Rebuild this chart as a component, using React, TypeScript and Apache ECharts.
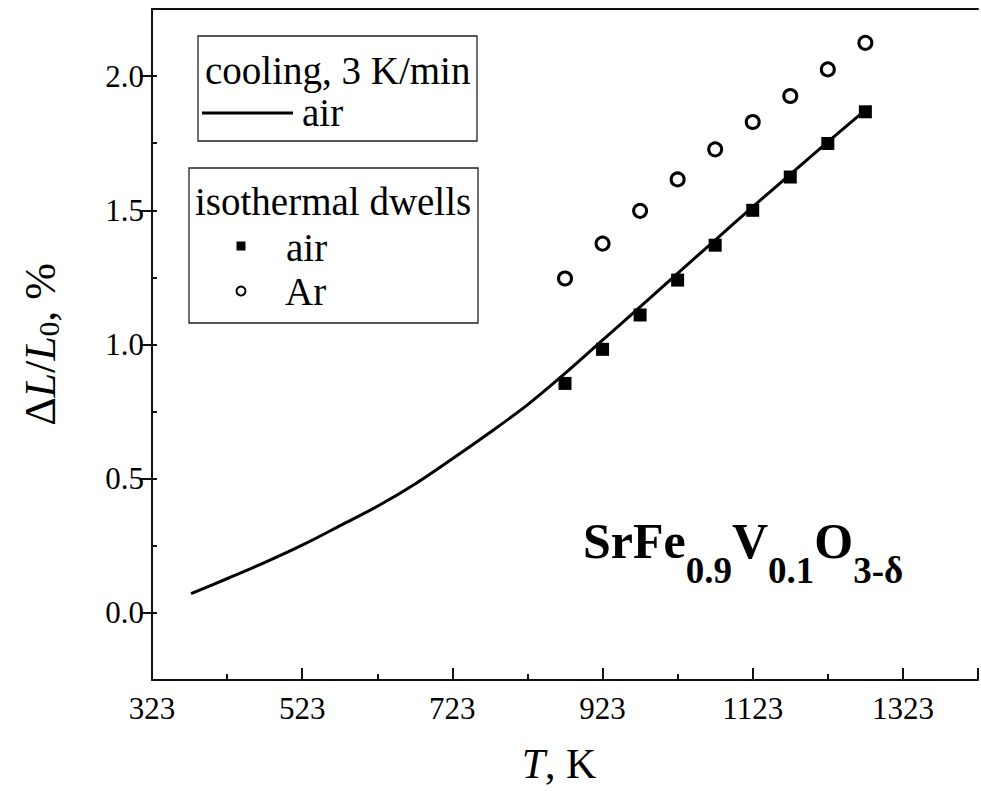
import React, { useEffect, useRef } from "react";
import * as echarts from "echarts";

const FONT = "Liberation Serif";

// isothermal dwell temperatures (K)
const dwellT = [873, 923, 973, 1023, 1073, 1123, 1173, 1223, 1273];
// ΔL/L0 (%) in air, isothermal dwells
const dwellAir = [0.855, 0.982, 1.11, 1.24, 1.37, 1.5, 1.624, 1.749, 1.867];
// ΔL/L0 (%) in Ar, isothermal dwells
const dwellAr = [1.246, 1.376, 1.498, 1.615, 1.727, 1.829, 1.926, 2.025, 2.124];
// cooling curve in air, 3 K/min
const coolT = [375, 425, 475, 525, 575, 625, 675, 723, 773, 823, 873, 923, 973, 1023, 1073, 1123, 1173, 1223, 1273];
const coolAir = [0.072, 0.13, 0.19, 0.255, 0.327, 0.4, 0.483, 0.574, 0.672, 0.775, 0.892, 1.016, 1.14, 1.265, 1.389, 1.513, 1.634, 1.755, 1.873];

const X_MIN = 323;
const X_MAX = 1423;
const X_STEP = 200;
const Y_MIN = -0.25;
const Y_MAX = 2.25;

export default function App() {
  const ref = useRef<HTMLDivElement>(null);
  useEffect(() => {
    if (!ref.current) return;
    const chart = echarts.init(ref.current, null, { renderer: "svg" });
    const axisLine = { show: true, onZero: false, lineStyle: { color: "#111", width: 2 } };
    const txt = (size: number, extra: any = {}) => ({ fontFamily: FONT, fontSize: size, color: "#000", ...extra });
    const gtxt = (x: number, y: number, text: string, size: number) => ({
      type: "text",
      x,
      y,
      z: 11,
      style: {
        text: `{a|${text}}`,
        verticalAlign: "middle",
        fill: "#000",
        rich: {
          a: { fontFamily: FONT, fontSize: size, fill: "#000", lineHeight: size + 4 },
        },
      },
    });
    const option: any = {
      animation: false,
      backgroundColor: "#fff",
      grid: { left: 152, top: 9, width: 833, height: 671, containLabel: false },
      xAxis: [
        {
          type: "value",
          min: X_MIN,
          max: X_MAX,
          interval: X_STEP,
          axisLine,
          axisTick: { show: true, inside: true, length: 12, lineStyle: { color: "#111", width: 2 } },
          minorTick: { show: true, splitNumber: 2, length: 6, lineStyle: { color: "#111", width: 2 } },
          splitLine: { show: false },
          axisLabel: {
            margin: 13,
            ...txt(31),
            formatter: (v: number) => {
              const r = Math.round(v);
              return (r - X_MIN) % X_STEP === 0 && r <= 1323 ? String(r) : "";
            },
          },
          name: "{i|T}{n|, K}",
          nameLocation: "middle",
          nameGap: 63,
          nameTextStyle: {
            ...txt(42),
            padding: [0, 12, 0, 0],
            rich: {
              i: txt(42, { fontStyle: "italic" }),
              n: txt(42),
            },
          },
        },
        {
          type: "value",
          position: "top",
          min: X_MIN,
          max: X_MAX,
          axisLine,
          axisTick: { show: false },
          axisLabel: { show: false },
          splitLine: { show: false },
        },
      ],
      yAxis: [
        {
          type: "value",
          min: Y_MIN,
          max: Y_MAX,
          interval: 0.25,
          axisLine,
          axisTick: { show: true, inside: true, length: 5, lineStyle: { color: "#111", width: 2 } },
          splitLine: { show: false },
          axisLabel: {
            margin: 8,
            ...txt(31),
            formatter: (v: number) => {
              const k = Math.round(v * 4);
              return k % 2 === 0 && v >= -0.001 && v <= 2.001 ? v.toFixed(1) : "";
            },
          },
          name: "{n|Δ}{i|L}{n|/}{i|L}{s|0}{n|, %}",
          nameLocation: "middle",
          nameGap: 86,
          nameTextStyle: {
            ...txt(44),
            rich: {
              n: txt(44, { lineHeight: 48, verticalAlign: "top" }),
              i: txt(44, { fontStyle: "italic", lineHeight: 48, verticalAlign: "top" }),
              s: txt(29, { lineHeight: 48, padding: [16, 0, 0, 0], verticalAlign: "top" }),
            },
          },
        },
        {
          type: "value",
          min: Y_MIN,
          max: Y_MAX,
          interval: 0.5,
          position: "left",
          axisLine: { show: false, onZero: false },
          axisTick: { show: false },
          minorTick: { show: true, splitNumber: 2, length: 12, lineStyle: { color: "#111", width: 2 } },
          axisLabel: { show: false },
          splitLine: { show: false },
        },
      ],
      series: [
        {
          name: "cooling air",
          type: "line",
          data: coolT.map((t, i) => [t, coolAir[i]]),
          smooth: 0.3,
          showSymbol: false,
          lineStyle: { color: "#000", width: 3 },
          z: 2,
        },
        {
          name: "dwell air",
          type: "scatter",
          data: dwellT.map((t, i) => [t, dwellAir[i]]),
          symbol: "rect",
          symbolSize: 13,
          itemStyle: { color: "#000", opacity: 1 },
          z: 3,
        },
        {
          name: "dwell Ar",
          type: "scatter",
          data: dwellT.map((t, i) => [t, dwellAr[i]]),
          symbol: "circle",
          symbolSize: 13,
          itemStyle: { color: "#fff", borderColor: "#000", borderWidth: 3, opacity: 1 },
          z: 3,
        },
      ],
      graphic: [
        { type: "rect", shape: { x: 198, y: 36, width: 279, height: 105 }, style: { fill: "#fff", stroke: "#222", lineWidth: 1.3 }, z: 10 },
        gtxt(205, 70, "cooling, 3 K/min", 39),
        { type: "line", shape: { x1: 202, y1: 113, x2: 293, y2: 113 }, style: { stroke: "#000", lineWidth: 3 }, z: 11 },
        gtxt(302, 112, "air", 39),
        { type: "rect", shape: { x: 189, y: 168, width: 289, height: 155 }, style: { fill: "#fff", stroke: "#222", lineWidth: 1.3 }, z: 10 },
        gtxt(195, 201, "isothermal dwells", 39),
        { type: "rect", shape: { x: 236.5, y: 241.5, width: 9, height: 9 }, style: { fill: "#000" }, z: 11 },
        gtxt(286, 247, "air", 39),
        { type: "circle", shape: { cx: 241, cy: 291, r: 4.5 }, style: { fill: "#fff", stroke: "#000", lineWidth: 2 }, z: 11 },
        gtxt(285, 291, "Ar", 39),
        {
          type: "text",
          x: 583,
          y: 516,
          style: {
            text: "{m|SrFe}{s|0.9}{m|V}{s|0.1}{m|O}{s|3-δ}",
            fill: "#000",
            rich: {
              m: { fontFamily: FONT, fontSize: 50, fontWeight: "bold", fill: "#000", lineHeight: 58, verticalAlign: "top" },
              s: { fontFamily: FONT, fontSize: 37, fontWeight: "bold", fill: "#000", lineHeight: 58, padding: [36, 0, 0, 0], verticalAlign: "top" },
            },
          },
          z: 11,
        },
      ],
    };
    chart.setOption(option);
    return () => chart.dispose();
  }, []);
  return <div ref={ref} style={{ position: "absolute", left: 0, top: 0, width: 981, height: 791, background: "#fff" }} />;
}
